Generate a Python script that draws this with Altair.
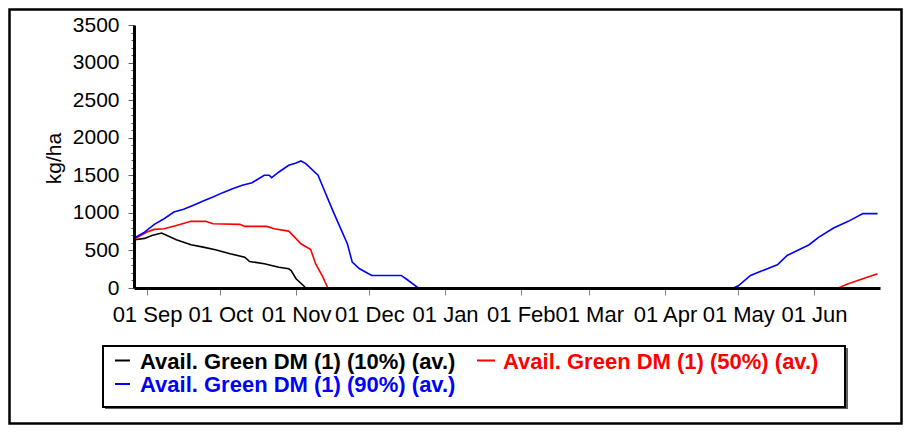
import altair as alt
import pandas as pd

FONT = "Liberation Sans, Arial, sans-serif"

SERIES = [
    "Avail. Green DM (1) (10%) (av.)",
    "Avail. Green DM (1) (50%) (av.)",
    "Avail. Green DM (1) (90%) (av.)",
]
COLORS = ["#000000", "#ff0000", "#0000ff"]

# 10% series
p10_dates = ["2001-08-27", "2001-08-31", "2001-09-03", "2001-09-07", "2001-09-13",
             "2001-09-19", "2001-09-24", "2001-09-29", "2001-10-05", "2001-10-11",
             "2001-10-13", "2001-10-19", "2001-10-25", "2001-10-29", "2001-10-30",
             "2001-11-01", "2001-11-04", "2001-11-05", "2002-06-27"]
p10_vals = [643, 660, 700, 731, 643, 576, 544, 509, 456, 411,
            353, 323, 277, 256, 233, 123, 33, 0, 0]

# 50% series
p50_dates = ["2001-08-27", "2001-09-01", "2001-09-04", "2001-09-08", "2001-09-13",
             "2001-09-19", "2001-09-25", "2001-09-28", "2001-10-09", "2001-10-11",
             "2001-10-20", "2001-10-23", "2001-10-29", "2001-10-31", "2001-11-03",
             "2001-11-07", "2001-11-09", "2001-11-12", "2001-11-14", "2002-06-11",
             "2002-06-15", "2002-06-21", "2002-06-27"]
p50_vals = [656, 744, 780, 789, 833, 887, 887, 856, 847, 820,
            820, 789, 757, 690, 589, 513, 323, 144, 0, 0,
            56, 123, 189]

# 90% series
p90_dates = ["2001-08-27", "2001-08-31", "2001-09-04", "2001-09-08", "2001-09-12",
             "2001-09-16", "2001-09-20", "2001-09-24", "2001-09-28", "2001-10-02",
             "2001-10-06", "2001-10-10", "2001-10-14", "2001-10-19", "2001-10-21",
             "2001-10-22", "2001-10-25", "2001-10-29", "2001-11-01", "2001-11-03",
             "2001-11-05", "2001-11-10", "2001-11-12", "2001-11-16", "2001-11-19",
             "2001-11-22", "2001-11-24", "2001-11-27", "2001-12-02", "2001-12-14",
             "2001-12-16", "2001-12-21", "2002-04-29", "2002-05-01", "2002-05-06",
             "2002-05-10", "2002-05-17", "2002-05-21", "2002-05-30", "2002-06-03",
             "2002-06-09", "2002-06-15", "2002-06-21", "2002-06-27"]
p90_vals = [669, 744, 847, 922, 1011, 1047, 1100, 1157, 1211, 1269,
            1322, 1367, 1402, 1500, 1500, 1469, 1544, 1633, 1664, 1691,
            1656, 1500, 1344, 1033, 811, 589, 344, 256, 167, 167,
            123, 0, 0, 30, 167, 220, 309, 433, 576, 678,
            798, 887, 990, 990]

Y_TICKS = list(range(0, 3600, 100))
Y_TITLE = "kg/ha"

rows = []
for name, ds, vs in zip(SERIES, [p10_dates, p50_dates, p90_dates], [p10_vals, p50_vals, p90_vals]):
    for d, v in zip(ds, vs):
        rows.append({"series": name, "date": d, "value": v})
df = pd.DataFrame(rows)

x_ticks = [alt.DateTime(year=2001, month=m, date=1, utc=True) for m in (9, 10, 11, 12)] + \
          [alt.DateTime(year=2002, month=m, date=1, utc=True) for m in (1, 2, 3, 4, 5, 6)]

x_scale = alt.Scale(
    type="utc",
    domain=[alt.DateTime(year=2001, month=8, date=26, hours=16, minutes=20, utc=True),
            alt.DateTime(year=2002, month=6, date=28, utc=True)],
)

lines = alt.Chart(df).mark_line(strokeWidth=1.6).encode(
    x=alt.X("date:T", scale=x_scale,
            axis=alt.Axis(values=x_ticks, title=None,
                          labelExpr="utcFormat(datum.value, '%d %b')",
                          labelFont=FONT, labelFontSize=22, labelColor="#000000",
                          labelPadding=9, labelFlush=False, labelOverlap=False,
                          tickSize=7, tickColor="#808080", tickWidth=1,
                          domainColor="#000000", domainWidth=3, grid=False, zindex=1)),
    y=alt.Y("value:Q", scale=alt.Scale(domain=[0, 3500], nice=False, zero=True),
            axis=alt.Axis(values=Y_TICKS, title=Y_TITLE,
                          labelExpr="datum.value % 500 === 0 ? datum.label : ''",
                          format="d",
                          labelFont=FONT, labelFontSize=21, labelColor="#000000",
                          labelPadding=9,
                          tickSize={"condition": {"test": "datum.value % 500 === 0", "value": 6}, "value": 3},
                          tickColor="#606060", tickWidth=1,
                          domainColor="#000000", domainWidth=3, grid=False,
                          titleFont=FONT, titleFontSize=21, titleFontWeight="normal",
                          titleColor="#000000", titleAngle=270, titleAlign="center",
                          titleBaseline="middle", titleX=-80, titleY=133, zindex=1)),
    color=alt.Color("series:N", scale=alt.Scale(domain=SERIES, range=COLORS), legend=None),
)

one = pd.DataFrame({"k": [0]})

frame = alt.Chart(one).mark_rect(filled=False, stroke="#000000", strokeWidth=2.5).encode(
    x=alt.value(-124.5), x2=alt.value(767.5), y=alt.value(-15.5), y2=alt.value(398.5)
)

legend_shadow = alt.Chart(one).mark_rect(fill="#606060").encode(
    x=alt.value(-29), x2=alt.value(714), y=alt.value(323), y2=alt.value(384)
)
legend_box = alt.Chart(one).mark_rect(fill="#ffffff", stroke="#000000", strokeWidth=2).encode(
    x=alt.value(-31), x2=alt.value(711), y=alt.value(321), y2=alt.value(382)
)

legend_layers = []
entries = [(-19, -4, 335.5, 6, 344), (343, 361, 335.5, 369, 344), (-19, -4, 359, 6, 367)]
for (dx1, dx2, dy, tx, ty), name, col in zip(entries, SERIES, COLORS):
    legend_layers.append(
        alt.Chart(one).mark_rule(color=col, strokeWidth=2).encode(
            x=alt.value(dx1), x2=alt.value(dx2), y=alt.value(dy))
    )
    legend_layers.append(
        alt.Chart(one).mark_text(align="left", baseline="alphabetic", font=FONT,
                                 fontSize=22, fontWeight="bold", color=col).encode(
            x=alt.value(tx), y=alt.value(ty), text=alt.value(name))
    )

chart = alt.layer(frame, legend_shadow, legend_box, lines, *legend_layers).properties(
    width=746,
    height=263,
    padding={"left": 126, "top": 17, "right": 23, "bottom": 138},
    autosize=alt.AutoSizeParams(type="none"),
    background="#ffffff",
).configure_view(stroke=None)

chart.save("out.html", embed_options={"renderer": "svg", "actions": False})
